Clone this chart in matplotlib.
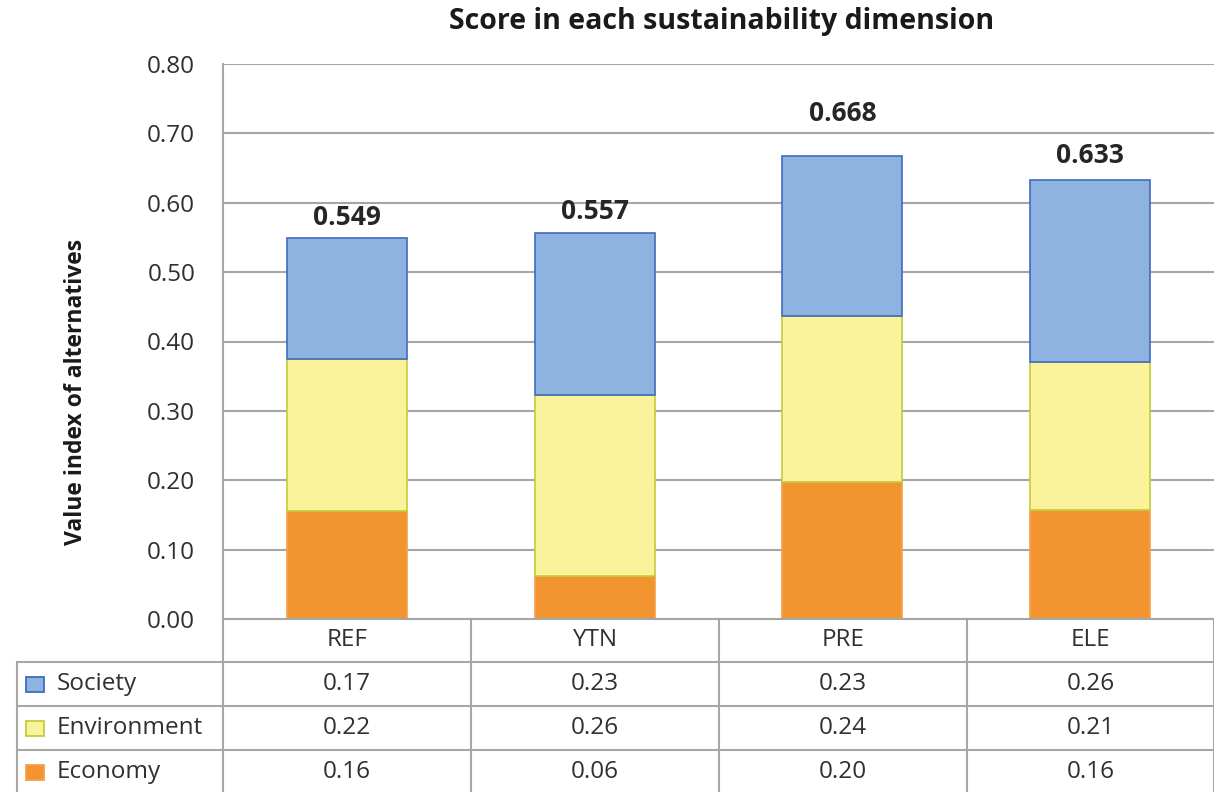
import matplotlib
matplotlib.use("Agg")
import matplotlib.pyplot as plt
from matplotlib.patches import Rectangle
from matplotlib.lines import Line2D
import numpy as np

categories = ["REF", "YTN", "PRE", "ELE"]
series_names = ["Society", "Environment", "Economy"]
economy = [0.156, 0.062, 0.198, 0.157]
environment = [0.219, 0.261, 0.239, 0.213]
society = [0.174, 0.234, 0.231, 0.263]
y_ticks = [0.0, 0.1, 0.2, 0.3, 0.4, 0.5, 0.6, 0.7, 0.8]

title = "Score in each sustainability dimension"
ylabel = "Value index of alternatives"

FONT = ["Open Sans", "DejaVu Sans"]

W, H = 1214, 792
fig = plt.figure(figsize=(W / 100, H / 100), dpi=100)

def fx(px):
    return px / W

def fy(py):
    return 1 - py / H

ax_l, ax_r, ax_t, ax_b = 223, 1214, 64, 619
ax = fig.add_axes([fx(ax_l), fy(ax_b), fx(ax_r - ax_l), (ax_b - ax_t) / H])

soc_face, soc_edge = "#8FB3E0", "#3F6DBE"
env_face, env_edge = "#FBF29C", "#C3CC3A"
eco_face, eco_edge = "#F29530", "#F5A04A"
grid_c = "#A6A6A6"
txt_c = "#303030"

x = np.arange(len(categories))
bw = 0.485
eco = np.array(economy)
env = np.array(environment)
soc = np.array(society)
ax.bar(x, eco, bw, color=eco_face, edgecolor=eco_edge, linewidth=1.2, zorder=3)
ax.bar(x, env, bw, bottom=eco, color=env_face, edgecolor=env_edge, linewidth=1.2, zorder=3)
ax.bar(x, soc, bw, bottom=eco + env, color=soc_face, edgecolor=soc_edge, linewidth=1.2, zorder=3)

totals = eco + env + soc
label_off = [0.03, 0.03, 0.06, 0.035]
for xi, t, o in zip(x, totals, label_off):
    ax.text(xi, t + o, f"{t:.3f}", ha="center", va="center", fontsize=19,
            fontweight="bold", family=FONT, color="#262626", zorder=4)

ax.set_xlim(-0.5, len(categories) - 0.5)
ax.set_ylim(0, 0.8)
ax.set_yticks(y_ticks)
ax.set_yticklabels([f"{v:.2f}" for v in y_ticks], family=FONT, fontsize=17.5, color=txt_c)
ax.tick_params(axis="y", length=0, pad=20)
ax.set_xticks([])
ax.yaxis.grid(True, color=grid_c, linewidth=1.5, zorder=0)
for s in ["top", "right", "bottom"]:
    ax.spines[s].set_visible(False)
ax.spines["left"].set_color(grid_c)
ax.spines["left"].set_linewidth(1.5)

fig.text(fx(722), fy(22), title, ha="center", va="center", fontsize=20.5,
         fontweight="bold", family=FONT, color="#1a1a1a")
fig.text(fx(76), fy(392), ylabel, ha="center", va="center", rotation=90,
         fontsize=16.5, fontweight="bold", family=FONT, color="#1a1a1a")

# data table
row_y = [619, 662, 706, 750, 794]
col_x = [223, 471, 719, 967, 1214]
leg_l = 17
lw = 1.5
fig.add_artist(Line2D([fx(ax_l), fx(W)], [fy(619), fy(619)], color=grid_c, lw=lw))
for r in row_y[1:]:
    fig.add_artist(Line2D([fx(leg_l), fx(W)], [fy(r), fy(r)], color=grid_c, lw=lw))
for c in col_x:
    fig.add_artist(Line2D([fx(c), fx(c)], [fy(619), fy(792)], color=grid_c, lw=lw))
fig.add_artist(Line2D([fx(leg_l), fx(leg_l)], [fy(662), fy(792)], color=grid_c, lw=lw))

cell_font = dict(family=FONT, fontsize=17.5, color=txt_c, ha="center", va="center")
for i, cat in enumerate(categories):
    cx = (col_x[i] + col_x[i + 1]) / 2
    fig.text(fx(cx), fy((row_y[0] + row_y[1]) / 2 - 1), cat, **cell_font)

rows = [(series_names[0], soc, soc_face, soc_edge),
        (series_names[1], env, env_face, env_edge),
        (series_names[2], eco, eco_face, eco_edge)]
for ri, (name, vals, fc, ec) in enumerate(rows):
    cy = (row_y[ri + 1] + row_y[ri + 2]) / 2
    fig.add_artist(Rectangle((fx(26), fy(cy + 7.5)), fx(18), 15 / H,
                             facecolor=fc, edgecolor=ec, lw=1.3))
    fig.text(fx(57), fy(cy), name, family=FONT, fontsize=17.5,
             color=txt_c, ha="left", va="center")
    for i, v in enumerate(vals):
        cx = (col_x[i] + col_x[i + 1]) / 2
        fig.text(fx(cx), fy(cy), f"{v:.2f}", **cell_font)

fig.savefig("out.png", dpi=100)
